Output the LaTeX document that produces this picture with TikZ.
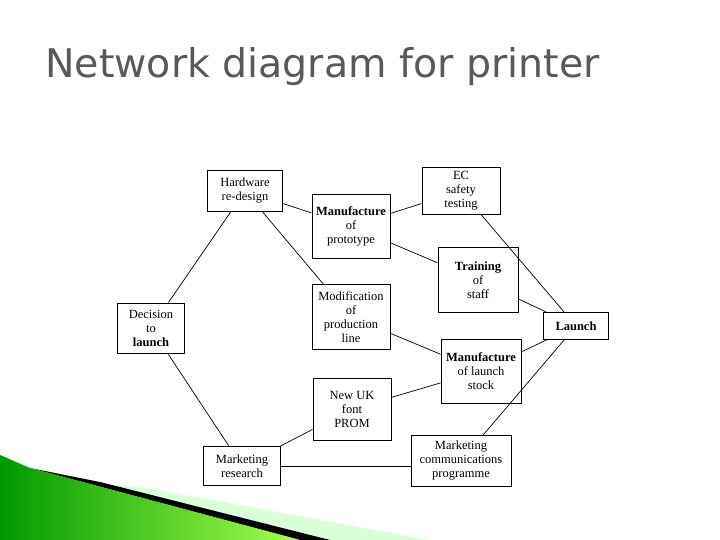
\documentclass[tikz,border=0pt]{standalone}
\usepackage{fontspec}
\setmainfont{Liberation Serif}
\newfontfamily\titlefont{DejaVu Sans}
\begin{document}
\begin{tikzpicture}[x=1pt,y=-1pt,
  box/.style={draw,line width=0.9pt,align=center,inner sep=0pt,font=\fontsize{12.5}{14}\selectfont},
  link/.style={line width=0.7pt}]
\useasboundingbox (0,0) rectangle (720,540);
\fill[white] (0,0) rectangle (720,540);
% title
\node[anchor=base west,inner sep=0pt,text=black!65,font=\titlefont\fontsize{39.5}{40}\selectfont] (title) at (45,78) {Network diagram for printer};
% nodes
\node[box,minimum width=75,minimum height=41] (hw) at (245,191) {Hardware\\re-design};
\node[box,minimum width=78,minimum height=64] (mp) at (351,226) {\textbf{Manufacture}\\of\\prototype};
\node[box,minimum width=78,minimum height=47] (ec) at (461,191) {EC\\safety\\testing};
\node[box,minimum width=80,minimum height=65] (tr) at (478,280) {\textbf{Training}\\of\\staff};
\node[box,minimum width=67,minimum height=50] (dec) at (151,328) {Decision\\to\\\textbf{launch}};
\node[box,minimum width=78,minimum height=65] (mod) at (351,317) {Modification\\of\\production\\line};
\node[box,minimum width=65,minimum height=27] (la) at (576,326) {\textbf{Launch}};
\node[box,minimum width=80,minimum height=64] (mls) at (481,371) {\textbf{Manufacture}\\of launch\\stock};
\node[box,minimum width=78,minimum height=62] (nuk) at (352,409) {New UK\\font\\PROM};
\node[box,minimum width=77,minimum height=39] (mr) at (242,466) {Marketing\\research};
\node[box,minimum width=100,minimum height=51] (mcp) at (461,461) {Marketing\\communications\\programme};
% connectors
\draw[link] (dec) -- (hw);
\draw[link] (dec) -- (mr);
\draw[link] (hw) -- (mp);
\draw[link] (hw) -- (mod);
\draw[link] (mp) -- (ec);
\draw[link] (mp) -- (tr);
\draw[link] (ec) -- (la);
\draw[link] (tr) -- (la);
\draw[link] (mod) -- (mls);
\draw[link] (nuk) -- (mls);
\draw[link] (mls) -- (la);
\draw[link] (mr) -- (nuk);
\draw[link] (mr.east) -- (mr.east -| mcp.west);
\draw[link] (mcp) -- (la);
% decoration
\fill[green!15!white] (100,484) -- (140,487) -- (430,540) -- (330,540) -- cycle;
\fill[black] (30,468) -- (100,482) -- (330,540) -- (300,540) -- cycle;
\shade[left color=green!60!black,right color=green!50!yellow!70] (0,455) -- (30,468) -- (300,540) -- (0,540) -- cycle;
\end{tikzpicture}
\end{document}
